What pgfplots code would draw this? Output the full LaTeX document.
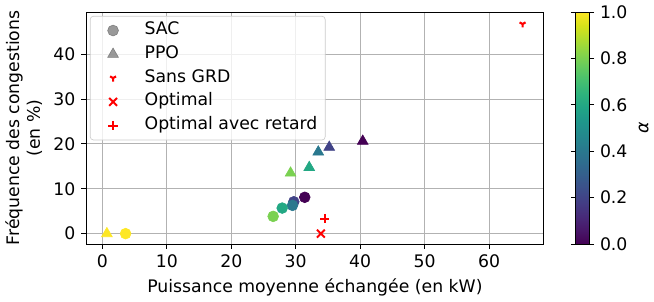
\documentclass[border=0pt]{standalone}
\usepackage{fontspec}
\setmainfont{DejaVu Sans}
\usepackage{pgfplots}
\pgfplotsset{compat=1.18}
\pgfplotsset{/pgf/number format/assume math mode=true}
\begin{document}
\begin{tikzpicture}[font=\fontsize{10.6pt}{12.7pt}\selectfont]
\begin{axis}[
  width=281pt, height=142.4pt, scale only axis,
  xmin=-2.54, xmax=68.5, ymin=-2.3, ymax=49.4,
  xtick={0,10,...,60}, ytick={0,10,...,40},
  grid=major, grid style={color=black!30, line width=0.5pt},
  tick align=outside, major tick length=3pt, tick style={black, line width=0.5pt},
  xtick pos=left, ytick pos=left,
  axis line style={line width=0.5pt},
  xlabel={Puissance moyenne échangée (en kW)},
  ylabel={Fréquence des congestions\\(en \%)},
  ylabel style={align=center},
  colormap/viridis, point meta min=0, point meta max=1,
  colorbar,
  colorbar style={
    at={(parent axis.north east)}, anchor=north west, xshift=11pt,
    width=8.4pt,
    ytick={0,0.2,...,1},
    yticklabel style={/pgf/number format/.cd, fixed, fixed zerofill, precision=1},
    ylabel={\itshape α},
    tick align=outside, major tick length=3pt, tick style={black, line width=0.5pt},
  },
  legend style={at={(0,1)}, anchor=north west, xshift=2.4pt, yshift=-2.4pt,
    draw=black!20, rounded corners=2pt, fill=white, fill opacity=0.8, text opacity=1,
    row sep=4.6pt, inner xsep=4.8pt, inner ysep=3.8pt, column sep=0pt,
    nodes={inner xsep=0pt, inner ysep=0pt, text height=0.75em, text depth=0.25em}},
  legend cell align=left,
  legend image code/.code={\path (-9pt,0) (19.2pt,0); \draw[#1] plot coordinates {(0pt,0pt)};},
]
\addlegendimage{only marks, mark=*, mark size=3.3pt, gray}
\addlegendentry{SAC}
\addlegendimage{only marks, mark=triangle*, mark size=3.8pt, gray}
\addlegendentry{PPO}

\addplot[scatter, only marks, mark=*, mark size=3.3pt, point meta=explicit,
  scatter/use mapped color={draw=mapped color, fill=mapped color}, forget plot]
  table[meta=a] {
x y a
31.4 8.1 0.0
29.7 7.1 0.2
29.5 6.3 0.4
27.9 5.7 0.6
26.5 3.85 0.8
3.6 0.0 1.0
};
\addplot[scatter, only marks, mark=triangle*, mark size=3.8pt, point meta=explicit,
  scatter/use mapped color={draw=mapped color, fill=mapped color}, forget plot]
  table[meta=a] {
x y a
40.4 20.6 0.0
35.2 19.25 0.2
33.5 18.2 0.4
32.1 14.75 0.6
29.2 13.5 0.8
0.7 0.0 1.0
};
\addplot[only marks, red, mark=Mercedes star flipped, mark size=2.1pt, mark options={line width=1.3pt}]
  coordinates {(65.2,46.7)};
\addlegendentry{Sans GRD}
\addplot[only marks, red, mark=x, mark size=3.4pt, mark options={line width=1.2pt}]
  coordinates {(33.9,0.0)};
\addlegendentry{Optimal}
\addplot[only marks, red, mark=+, mark size=2.9pt, mark options={line width=1.2pt}]
  coordinates {(34.5,3.35)};
\addlegendentry{Optimal avec retard}
\end{axis}
\end{tikzpicture}
\end{document}
